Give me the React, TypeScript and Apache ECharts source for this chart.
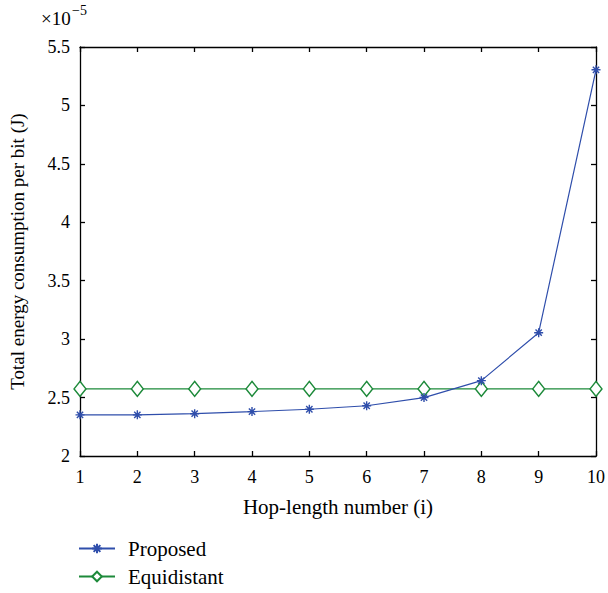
import React, { useEffect, useRef } from "react";
import * as echarts from "echarts";

const hops = ["1", "2", "3", "4", "5", "6", "7", "8", "9", "10"];
const proposed = [2.352, 2.352, 2.362, 2.38, 2.4, 2.43, 2.5, 2.645, 3.055, 5.305];
const equidistant = [2.574, 2.574, 2.574, 2.574, 2.574, 2.574, 2.574, 2.574, 2.574, 2.574];
const seriesNames = ["Proposed", "Equidistant"];

const FONT = "'Liberation Serif', 'DejaVu Serif', serif";
const BLUE = "#2f4eab";
const GREEN = "#1d8a3a";
const star = "path://M0 5 L10 5 M5 0 L5 10 M1.5 1.5 L8.5 8.5 M1.5 8.5 L8.5 1.5";

export default function App() {
  const ref = useRef<HTMLDivElement>(null);
  useEffect(() => {
    const chart = echarts.init(ref.current!, undefined, { renderer: "svg" });
    const axisLine = { show: true, lineStyle: { color: "#000", width: 1.3 } };
    const tick = { show: true, inside: true, length: 5, lineStyle: { color: "#000", width: 1.3 } };
    const legendBase = {
      orient: "vertical",
      left: 78,
      itemWidth: 36,
      itemHeight: 12,
      padding: 0,
      textStyle: { color: "#000", fontSize: 21, fontFamily: FONT, padding: [0, 0, 0, 8] },
    };
    chart.setOption({
      animation: false,
      backgroundColor: "#fff",
      textStyle: { fontFamily: FONT },
      grid: { left: 78, right: 10, top: 47, bottom: 137, containLabel: false },
      xAxis: [
        {
          type: "category",
          data: hops,
          boundaryGap: false,
          axisLine,
          axisTick: { ...tick, alignWithLabel: true },
          axisLabel: { color: "#000", fontSize: 18, fontFamily: FONT, margin: 12 },
          name: "Hop-length number (i)",
          nameLocation: "middle",
          nameGap: 40,
          nameTextStyle: { color: "#000", fontSize: 21, fontFamily: FONT },
          splitLine: { show: false },
        },
        {
          type: "category",
          data: hops,
          boundaryGap: false,
          position: "top",
          axisLine,
          axisTick: tick,
          axisLabel: { show: false },
          splitLine: { show: false },
        },
      ],
      yAxis: [
        {
          type: "value",
          min: 2,
          max: 5.5,
          interval: 0.5,
          axisLine,
          axisTick: tick,
          axisLabel: { color: "#000", fontSize: 18, fontFamily: FONT, margin: 10 },
          splitLine: { show: false },
          name: "Total energy consumption per bit (J)",
          nameLocation: "middle",
          nameGap: 53,
          nameRotate: 90,
          nameTextStyle: { color: "#000", fontSize: 19, fontFamily: FONT },
        },
        {
          type: "value",
          min: 2,
          max: 5.5,
          interval: 0.5,
          position: "right",
          axisLine,
          axisTick: tick,
          axisLabel: { show: false },
          splitLine: { show: false },
        },
      ],
      legend: [
        { ...legendBase, top: 538, data: [seriesNames[0]] },
        { ...legendBase, top: 566, data: [seriesNames[1]] },
      ],
      graphic: [
        {
          type: "text",
          left: 41,
          top: 9,
          style: { text: "×10", fontSize: 19, fontFamily: FONT, fill: "#000" },
        },
        {
          type: "text",
          left: 72,
          top: 3,
          style: { text: "−5", fontSize: 14, fontFamily: FONT, fill: "#000" },
        },
      ],
      series: [
        {
          name: seriesNames[0],
          type: "line",
          data: proposed,
          symbol: star,
          symbolSize: 9,
          showAllSymbol: true,
          lineStyle: { color: BLUE, width: 1.2 },
          itemStyle: { color: "none", borderColor: BLUE, borderWidth: 1.4 },
          z: 3,
        },
        {
          name: seriesNames[1],
          type: "line",
          data: equidistant,
          symbol: "diamond",
          symbolSize: [12, 15],
          showAllSymbol: true,
          lineStyle: { color: GREEN, width: 1.4 },
          itemStyle: { color: "#fff", borderColor: GREEN, borderWidth: 1.4 },
          z: 2,
        },
      ],
    });
    return () => chart.dispose();
  }, []);
  return <div ref={ref} style={{ width: 608, height: 593, position: "absolute", left: 0, top: 0 }} />;
}
